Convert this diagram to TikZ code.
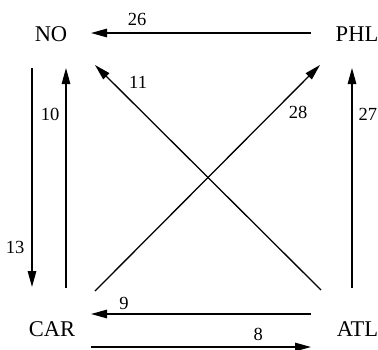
\documentclass[tikz,border=0pt]{standalone}
\usepackage{fontspec}
\setmainfont{Liberation Serif}
\usetikzlibrary{arrows.meta}
\begin{document}
\begin{tikzpicture}[x=1pt,y=-1pt,
  city/.style={inner sep=0pt,font=\fontsize{22.5}{26}\selectfont},
  lbl/.style={inner sep=0pt,font=\fontsize{18.5}{22}\selectfont},
  conn/.style={line width=1.3pt,-{Triangle[length=16pt,width=8.5pt]}}]
\useasboundingbox (0,0) rectangle (378,349);
\node[city] (NO) at (51,34) {NO};
\node[city] (PHL) at (357,34) {PHL};
\node[city] (CAR) at (52,329) {CAR};
\node[city] (ATL) at (357.5,329) {ATL};
% edges
\draw[conn] ([shift={(-46,-1)}]PHL.center) -- node[lbl,pos=0.79,above=7pt] (l26) {26} ([shift={(40,-1)}]NO.center);
\draw[conn] ([shift={(-19,34)}]NO.center) -- node[lbl,pos=0.82,left=7pt] (l13) {13} ([shift={(-19,253)}]NO.center);
\draw[conn] ([shift={(15,254)}]NO.center) -- node[lbl,pos=0.79,left=6pt] (l10) {10} ([shift={(15,34)}]NO.center);
\draw[conn] ([shift={(-36.5,-39)}]ATL.center) -- node[lbl,pos=0.922,anchor=center,xshift=25.5pt] (l11) {11} ([shift={(44,31)}]NO.center);
\draw[conn] ([shift={(43,-38)}]CAR.center) -- node[lbl,pos=0.792,anchor=center,xshift=25pt] (l28) {28} ([shift={(-37,31)}]PHL.center);
\draw[conn] ([shift={(-5,254)}]PHL.center) -- node[lbl,pos=0.79,right=6pt] (l27) {27} ([shift={(-5,34)}]PHL.center);
\draw[conn] ([shift={(-46.5,-15)}]ATL.center) -- node[lbl,pos=0.85,above=4pt] (l9) {9} ([shift={(39,-15)}]CAR.center);
\draw[conn] ([shift={(39,18)}]CAR.center) -- node[lbl,pos=0.76,above=6pt] (l8) {8} ([shift={(-46.5,18)}]ATL.center);
\end{tikzpicture}
\end{document}
